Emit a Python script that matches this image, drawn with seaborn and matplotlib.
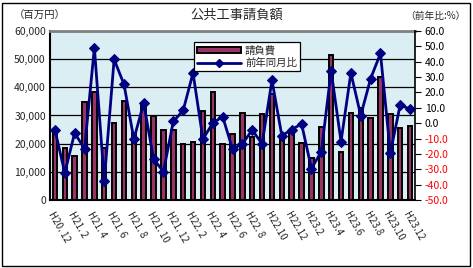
import numpy as np
import matplotlib
matplotlib.use("Agg")
import matplotlib.pyplot as plt
import seaborn as sns
from matplotlib.patches import Rectangle
from matplotlib.lines import Line2D

# ---- data ----
months = ["H20.12",
          "H21.1", "H21.2", "H21.3", "H21.4", "H21.5", "H21.6",
          "H21.7", "H21.8", "H21.9", "H21.10", "H21.11", "H21.12",
          "H22.1", "H22.2", "H22.3", "H22.4", "H22.5", "H22.6",
          "H22.7", "H22.8", "H22.9", "H22.10", "H22.11", "H22.12",
          "H23.1", "H23.2", "H23.3", "H23.4", "H23.5", "H23.6",
          "H23.7", "H23.8", "H23.9", "H23.10", "H23.11", "H23.12"]
amount = [25000, 18550, 15700, 34860, 38400, 18550, 27400, 35200, 23650, 34300,
          29900, 24950, 24950, 19970, 20700, 31670, 38400, 19860, 23290, 30740,
          22450, 30400, 37600, 22450, 24000, 20100, 14780, 26000, 51420, 17130,
          30970, 32500, 29200, 43740, 30500, 25650, 26360]
pct = [-4.4, -32.3, -6.3, -16.8, 49.1, -37.6, 41.5, 25.3, -10.3, 13.0,
       -23.4, -31.5, 1.1, 8.3, 32.7, -10.3, 0.0, 4.3, -16.8, -13.5,
       -4.4, -13.5, 27.9, -8.1, -4.2, -0.4, -29.5, -18.6, 34.0, -12.0,
       32.7, 5.0, 29.0, 45.4, -19.4, 12.0, 9.0]
xtick_labels = ["H20. 12", "H21. 2", "H21. 4", "H21. 6", "H21. 8", "H21. 10",
                "H21. 12", "H22. 2", "H22. 4", "H22. 6", "H22. 8", "H22.10",
                "H22.12", "H23.2", "H23.4", "H23.6", "H23.8", "H23.10", "H23.12"]
left_ticks = [0, 10000, 20000, 30000, 40000, 50000, 60000]
right_ticks = [-50, -40, -30, -20, -10, 0, 10, 20, 30, 40, 50, 60]
title = "公共工事請負額"
bar_label = "請負費"
line_label = "前年同月比"

sns.set_style("white")
plt.rcParams["font.family"] = ["Noto Sans CJK JP", "DejaVu Sans"]
plt.rcParams["axes.unicode_minus"] = False

fig = plt.figure(figsize=(4.73, 2.68), dpi=100)
ax = fig.add_axes([50 / 473, 1 - 200 / 268, 365 / 473, 169 / 268])
ax.set_facecolor("#DAEEF3")

sns.barplot(x=months, y=amount, ax=ax, color="#993366", saturation=1,
            width=0.45, edgecolor="black", linewidth=1.4, zorder=2)
ax.set_xlim(-0.5, len(months) - 0.5)
ax.set_ylim(0, 60000)
ax.set_yticks(left_ticks)
ax.set_yticklabels([f"{v:,}" for v in left_ticks], fontsize=7.5)
ax.yaxis.grid(True, color="black", lw=0.9, zorder=0)
ax.set_axisbelow(True)
ax.set_xticks(range(0, len(months), 2))
ax.set_xticklabels(xtick_labels, rotation=-60, ha="left", va="top",
                   rotation_mode="anchor", fontsize=7)
ax.set_xticks(np.arange(-0.5, len(months), 1), minor=True)
ax.tick_params(axis="x", which="major", length=0, pad=7)
ax.tick_params(axis="x", which="minor", length=3, direction="out", color="black")
ax.tick_params(axis="y", length=0, pad=3)
ax.set_xlabel("")
ax.set_ylabel("")
for side in ["left", "bottom"]:
    ax.spines[side].set_color("black")
    ax.spines[side].set_linewidth(1.5)
ax.spines["top"].set_color("#808080")
ax.spines["top"].set_linewidth(2)
ax.spines["right"].set_visible(False)

ax2 = ax.twinx()
sns.lineplot(x=np.arange(len(months)), y=pct, ax=ax2, color="#000080",
             lw=2, marker="D", markersize=5, markeredgecolor="#000080", zorder=5)
ax2.set_ylim(-50, 60)
ax2.set_yticks(right_ticks)
ax2.set_yticklabels([f"{v:.1f}" for v in right_ticks], fontsize=7.5)
for v, lab in zip(right_ticks, ax2.get_yticklabels()):
    lab.set_color("red" if v < 0 else "black")
ax2.tick_params(axis="y", length=4, direction="out", color="black", pad=3)
ax2.set_xlim(-0.5, len(months) - 0.5)
for side in ["left", "bottom", "top"]:
    ax2.spines[side].set_visible(False)
ax2.spines["right"].set_color("black")
ax2.spines["right"].set_linewidth(1.2)
ax2.set_ylabel("")

h_bar = Rectangle((0, 0), 1, 1, facecolor="#993366", edgecolor="black", lw=1.4)
h_line = Line2D([], [], color="#000080", lw=2, marker="D", markersize=4)
leg = ax2.legend([h_bar, h_line], [bar_label, line_label],
                 loc="upper left", bbox_to_anchor=(0.38, 0.965),
                 fontsize=7.5, frameon=True, fancybox=False, framealpha=1,
                 edgecolor="black", handlelength=4.2, handleheight=0.5,
                 borderpad=0.3, labelspacing=0.25, handletextpad=0.4)
leg.get_frame().set_linewidth(0.9)

fig.text(0.5, 1 - 15 / 268, title, ha="center", va="center", fontsize=9.5)
fig.text(40 / 473, 1 - 16 / 268, "（百万円）", ha="center", va="center", fontsize=7.5)
fig.text(435 / 473, 1 - 16 / 268, "（前年比:%）", ha="center", va="center", fontsize=7)

fig.patches.append(Rectangle((2 / 473, 2 / 268), 468 / 473, 263 / 268,
                             transform=fig.transFigure, fill=False,
                             edgecolor="black", lw=1))

fig.savefig("out.png", dpi=100)
